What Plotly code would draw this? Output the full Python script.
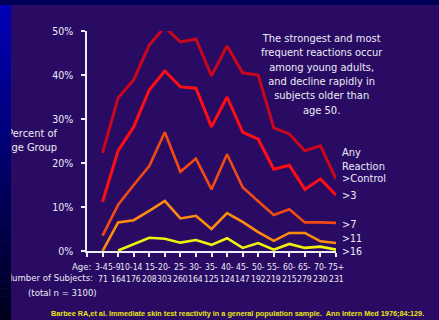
import plotly.graph_objects as go

# Age groups and subject counts per group
ages = ["3-4", "5-9", "10-14", "15-", "20-", "25-", "30-", "35-", "40-", "45-",
        "50-", "55-", "60-", "65-", "70-", "75+"]
subjects = [71, 164, 176, 208, 303, 260, 164, 125, 124, 147, 192, 219, 215, 279, 230, 231]

# Percent of age group reacting, by reaction threshold
any_reaction = [22.3, 34.8, 38.9, 46.8, 50.9, 47.5, 48.2, 39.8, 46.6, 40.5, 40.0, 28.0, 26.6, 22.8, 23.9, 16.4]
gt3 = [11.2, 22.8, 28.2, 36.6, 40.9, 37.3, 37.0, 28.2, 35.0, 27.0, 25.4, 18.6, 19.5, 14.0, 16.4, 12.7]
gt7 = [3.5, 10.5, 15.0, 19.3, 27.0, 18.0, 21.0, 14.0, 22.0, 14.5, 11.3, 8.2, 9.5, 6.5, 6.5, 6.4]
gt11 = [0.0, 6.5, 7.0, 9.1, 11.4, 7.4, 8.0, 5.0, 8.6, 6.6, 4.3, 2.3, 4.1, 4.1, 2.2, 1.8]
gt16 = [None, 0.1, 1.6, 3.0, 2.8, 1.9, 2.5, 1.4, 2.9, 0.7, 1.8, 0.3, 1.6, 0.7, 1.0, 0.3]

series = [
    (any_reaction, "#c8061c", 3.0),
    (gt3, "#ff0d14", 3.0),
    (gt7, "#f24a12", 2.6),
    (gt11, "#ff8c0c", 2.6),
    (gt16, "#eef20a", 2.6),
]

W, H = 439, 320
BG = "#2a0b64"
WHITE = "#ececf6"
NARROW = "DejaVu Sans Condensed, Liberation Sans Narrow, Arial Narrow, Liberation Sans, sans-serif"


def tfont(size, color=WHITE):
    return dict(family=NARROW, size=size, color=color)


fig = go.Figure()
xs = list(range(len(ages)))
for vals, color, width in series:
    fig.add_trace(go.Scatter(
        x=xs, y=vals, mode="lines",
        line=dict(color=color, width=width),
        cliponaxis=False, hoverinfo="skip", showlegend=False,
    ))

# Text that runs under the left border strip (clipped at the strip edge)
fig.add_trace(go.Scatter(
    x=[57, 57], y=[134, 148],
    text=["Percent of", "Age Group"],
    mode="text", textposition="middle left",
    textfont=tfont(11),
    xaxis="x2", yaxis="y2", cliponaxis=True,
    hoverinfo="skip", showlegend=False,
))
fig.add_trace(go.Scatter(
    x=[93], y=[279],
    text=["Number of Subjects:"],
    mode="text", textposition="middle left",
    textfont=tfont(9.5),
    xaxis="x2", yaxis="y2", cliponaxis=True,
    hoverinfo="skip", showlegend=False,
))

annotations = []
# Age labels and subject counts under each category
age_shift = {0: -1.5, 1: -4, 2: -2, 3: 2}
for i, (a, n) in enumerate(zip(ages, subjects)):
    annotations.append(dict(x=i, y=266.5, xref="x", yref="y2", text=a, showarrow=False,
                            font=tfont(8.6), xanchor="center", yanchor="middle",
                            xshift=age_shift.get(i, 0)))
    annotations.append(dict(x=i, y=279, xref="x", yref="y2", text=str(n), showarrow=False,
                            font=tfont(8.6), xanchor="center", yanchor="middle"))
annotations.append(dict(x=93, y=266.5, xref="x2", yref="y2", text="Age:", showarrow=False,
                        font=tfont(9.5), xanchor="right", yanchor="middle"))
annotations.append(dict(x=62, y=292, xref="x2", yref="y2", text="(total n = 3100)", showarrow=False,
                        font=tfont(9.5), xanchor="center", yanchor="middle"))

# Series labels on the right
labels = [("Any", 152, 11), ("Reaction", 166, 11), (">Control", 178, 11), (">3", 195, 11),
          (">7", 224, 11), (">11", 238, 10.5), (">16", 251, 10.5)]
for txt, y, size in labels:
    annotations.append(dict(x=340, y=y, xref="x2", yref="y2", text=txt, showarrow=False,
                            font=tfont(size), xanchor="left", yanchor="middle", align="left"))

annotations.append(dict(
    x=322, y=74, xref="x2", yref="y2",
    text="The strongest and most<br>frequent reactions occur<br>among young adults,<br>"
         "and decline rapidly in<br>subjects older than<br>age 50.",
    showarrow=False, align="center", xanchor="center", yanchor="middle",
    font=tfont(11),
))

annotations.append(dict(
    x=237.5, y=313, xref="x2", yref="y2",
    text="<b>Barbee RA,et al. Immediate skin test reactivity in a general population sample.  "
         "Ann Intern Med 1976;84:129.</b>",
    showarrow=False, xanchor="center", yanchor="middle",
    font=dict(family="Liberation Sans, Arial, sans-serif", size=7.3, color="#e8e414"),
))

# Slide border: dark strip along the top, blue gradient along the left edge
shapes = [dict(type="rect", xref="paper", yref="paper", x0=0, x1=1, y0=1 - 5 / H, y1=1,
               fillcolor="#000058", line=dict(width=0), layer="below")]
steps = 40
for k in range(steps):
    t = k / (steps - 1)
    b = int(185 * (1 - t) + 28 * t)
    shapes.append(dict(type="rect", xref="paper", yref="paper",
                       x0=0, x1=11 / W,
                       y0=1 - (5 + (H - 5) * (k + 1) / steps) / H,
                       y1=1 - (5 + (H - 5) * k / steps) / H,
                       fillcolor=f"rgb(0,0,{b})", line=dict(width=0), layer="below"))

fig.update_layout(
    width=W, height=H,
    margin=dict(l=0, r=0, t=0, b=0, pad=0, autoexpand=False),
    paper_bgcolor=BG, plot_bgcolor="rgba(0,0,0,0)",
    showlegend=False,
    xaxis=dict(domain=[87 / W, 336 / W], range=[-1, 15], showgrid=False, zeroline=False,
               showline=True, linecolor=WHITE, linewidth=1.5,
               ticks="outside", ticklen=4, tickwidth=1.5, tickcolor=WHITE,
               tickvals=list(range(-1, 16)), showticklabels=False, fixedrange=True),
    yaxis=dict(domain=[69 / H, 289 / H], range=[0, 50], showgrid=False, zeroline=False,
               showline=True, linecolor=WHITE, linewidth=1.5,
               ticks="outside", ticklen=4, tickwidth=1.5, tickcolor=WHITE,
               tickvals=[0, 10, 20, 30, 40, 50],
               ticktext=["0%", "10%", "20%", "30%", "40%", "50%"],
               ticklabelstandoff=6,
               tickfont=tfont(10.5), fixedrange=True),
    xaxis2=dict(domain=[11 / W, 1], range=[11, W], visible=False, anchor="y2", fixedrange=True),
    yaxis2=dict(domain=[0, 1], range=[H, 0], visible=False, anchor="x2", fixedrange=True),
    annotations=annotations,
    shapes=shapes,
)

fig.write_html("out.html")
